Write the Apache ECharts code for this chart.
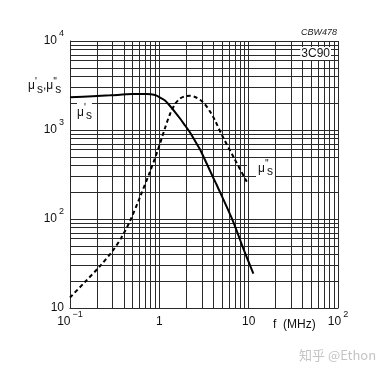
<!DOCTYPE html>
<html><head><meta charset="utf-8">
<script src="https://cdn.jsdelivr.net/npm/echarts@6/dist/echarts.min.js"></script>
<style>html,body{margin:0;padding:0;background:#fff}#c{width:392px;height:375px}</style>
</head><body><div id="c"></div>
<script>
// μ's (solid) – frequency in MHz, permeability
const muPrimeFreq   = [0.1, 0.18, 0.28, 0.5, 0.72, 0.895, 1.018, 1.158, 1.318, 1.499, 1.705, 1.94, 2.207, 2.511, 2.856, 3.249, 4.025, 4.394, 6.742, 8.721, 11.29];
const muPrimeValues = [2330, 2400, 2450, 2530, 2535, 2474, 2318, 2145, 1861, 1593, 1346, 1124, 937, 752, 604, 460, 289, 241, 92.5, 46.4, 24.3];
// μ''s (dashed)
const muDoublePrimeFreq   = [0.1, 0.147, 0.2168, 0.3054, 0.3822, 0.4698, 0.6081, 0.7871, 0.8951, 1.018, 1.158, 1.318, 1.499, 1.705, 1.94, 2.207, 2.511, 2.856, 3.249, 3.696, 4.205, 4.998, 6.863, 9.522];
const muDoublePrimeValues = [13.1, 19.6, 29.6, 44.9, 63.6, 95, 176.6, 341.6, 484.5, 705, 1053, 1513, 1960, 2259, 2392, 2423, 2349, 2184, 1934, 1614, 1278, 885, 484.5, 262.5];
// tick labels [base, exponent]
const xTickLabels = [['10', '−1'], ['1', ''], ['10', ''], ['10', '2']]; // 10^-1 .. 10^2
const yTickLabels = [['10', ''], ['10', '2'], ['10', '3'], ['10', '4']];  // 10^1 .. 10^4
const xDecades = [0.1, 1, 10];
const yDecades = [10, 100, 1000];
const gridMultipliers = [1, 2, 3, 4, 5, 6, 7, 8, 9];

const FONT = 'Liberation Sans, Arial, sans-serif';
const GRID_COLOR = '#2a2a2a';

const xGrid = [];
xDecades.forEach(d => gridMultipliers.forEach(m => xGrid.push(+(d * m).toPrecision(3))));
xGrid.push(100);
const yGrid = [];
yDecades.forEach(d => gridMultipliers.forEach(m => yGrid.push(d * m)));
yGrid.push(10000);

const markData = [];
xGrid.forEach(v => markData.push({ xAxis: v }));
yGrid.forEach(v => {
  if (v === 400) markData.push([{ coord: [0.1, 400] }, { coord: [9.6, 400] }]);
  else markData.push({ yAxis: v });
});

const pair = (xs, ys) => xs.map((x, i) => [x, ys[i]]);

const richAxis = {
  b: { fontSize: 12, fontFamily: FONT, color: '#111' },
  sup: { fontSize: 9, fontFamily: FONT, color: '#111', padding: [0, 0, 14, 2] }
};
function fmt(t) { return t[1] ? '{b|' + t[0] + '}{sup|' + t[1] + '}' : '{b|' + t[0] + '}'; }
const muRich = {
  m: { fontSize: 12, fontFamily: FONT, color: '#111' },
  p: { fontSize: 10, fontFamily: FONT, color: '#111', padding: [0, 0, 8, 0], width: 2 },
  s: { fontSize: 12, fontFamily: FONT, color: '#111', padding: [7, 0, 0, 0] }
};

const chart = echarts.init(document.getElementById('c'), null, { renderer: 'canvas' });
chart.setOption({
  animation: false,
  backgroundColor: '#fff',
  grid: { left: 70, right: 54, top: 41, bottom: 67, containLabel: false },
  xAxis: {
    type: 'log', logBase: 10, min: 0.1, max: 100,
    axisLine: { show: true, lineStyle: { color: '#111', width: 1 } },
    axisTick: { show: false },
    splitLine: { show: false },
    minorTick: { show: false },
    axisLabel: {
      showMinLabel: true, showMaxLabel: true,
      margin: 14, verticalAlign: 'middle',
      formatter: v => fmt(xTickLabels[Math.round(Math.log10(v)) + 1]),
      rich: richAxis
    }
  },
  yAxis: {
    type: 'log', logBase: 10, min: 10, max: 10000,
    axisLine: { show: true, lineStyle: { color: '#111', width: 1 } },
    axisTick: { show: false },
    splitLine: { show: false },
    axisLabel: {
      showMinLabel: true, showMaxLabel: true,
      margin: 6,
      formatter: v => fmt(yTickLabels[Math.round(Math.log10(v)) - 1]),
      rich: richAxis
    }
  },
  series: [
    {
      type: 'line', z: 1, silent: true, data: [[1, 100]], symbol: 'none',
      lineStyle: { opacity: 0 },
      markLine: {
        silent: true, animation: false, symbol: ['none', 'none'],
        label: { show: false },
        lineStyle: { type: 'solid', color: GRID_COLOR, width: 1 },
        emphasis: { disabled: true },
        data: markData
      }
    },
    {
      name: "μ's", type: 'line', z: 5, data: pair(muPrimeFreq, muPrimeValues),
      showSymbol: false, symbol: 'none', smooth: 0.3,
      lineStyle: { color: '#000', width: 2 }
    },
    {
      name: "μ''s", type: 'line', z: 5, data: pair(muDoublePrimeFreq, muDoublePrimeValues),
      showSymbol: false, symbol: 'none', smooth: 0.3,
      lineStyle: { color: '#000', width: 2, type: [4, 3] }
    }
  ],
  graphic: [
    { type: 'text', left: 28, top: 77, z: 10,
      style: { text: "{m|μ}{p|'}{s|s}{m|,μ}{p|''}{s|s}", fill: '#111', rich: muRich } },
    { type: 'text', left: 77, top: 103, z: 10,
      style: { text: "{m|μ}{p|'}{s|s}", fill: '#111', backgroundColor: '#fff', rich: muRich } },
    { type: 'text', left: 256, top: 159, z: 10,
      style: { text: "{m|μ}{p|''}{s|s}", fill: '#111', backgroundColor: '#fff', padding: [0, 2, 0, 2], rich: muRich } },
    { type: 'text', right: 61, top: 47, z: 10,
      style: { text: '3C90', fill: '#111', font: '12px ' + FONT, backgroundColor: '#fff', padding: [1, 1, 0, 1] } },
    { type: 'text', right: 55, top: 28, z: 10,
      style: { text: 'CBW478', fill: '#222', font: 'italic 9px ' + FONT } },
    { type: 'text', left: 273, top: 319, z: 10,
      style: { text: 'f  (MHz)', fill: '#111', font: '12px ' + FONT } },
    { type: 'text', left: 299, top: 349, z: 10,
      style: { text: '知乎 @Ethon', fill: '#c4c4c4', font: '13px "Noto Sans CJK SC", sans-serif' } }
  ]
});
</script>
</body></html>
